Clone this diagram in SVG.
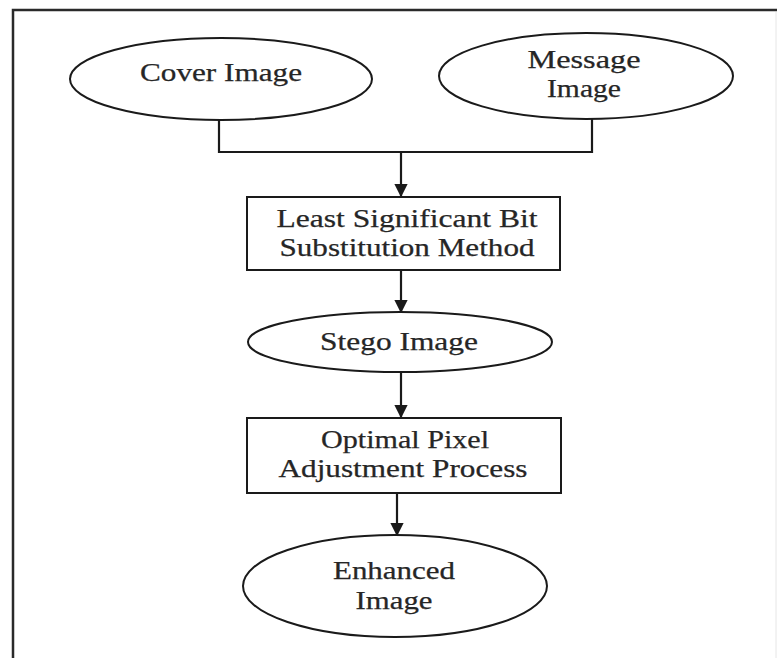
<svg xmlns="http://www.w3.org/2000/svg" width="779" height="658" viewBox="0 0 779 658">
  <defs>
    <style>
      .shape { fill: #ffffff; stroke: #1a1a1a; stroke-width: 2; }
      .wire { fill: none; stroke: #1a1a1a; stroke-width: 2.2; }
      .label { font-family: "Liberation Serif", "Times New Roman", serif; font-size: 25px; fill: #262626; stroke: #262626; stroke-width: 0.25; text-anchor: middle; }
    </style>
    <marker id="arrow" viewBox="0 0 10 10" refX="9" refY="5" markerWidth="6" markerHeight="6" markerUnits="strokeWidth" orient="auto">
      <path d="M0,0 L10,5 L0,10 z" fill="#1a1a1a"/>
    </marker>
  </defs>

  <rect width="779" height="658" fill="#ffffff"/>

  <!-- outer frame -->
  <path d="M13,658 L13,10 L777,10" fill="none" stroke="#2a2a2a" stroke-width="2.5"/>
  <line x1="776" y1="12" x2="776" y2="658" stroke="#e6e6e6" stroke-width="1"/>

  <g id="connectors">
    <path class="wire" d="M219,120 L219,152 L592,152 L592,118"/>
    <line class="wire" x1="401" y1="152" x2="401" y2="196" marker-end="url(#arrow)"/>
    <line class="wire" x1="401" y1="270" x2="401" y2="312" marker-end="url(#arrow)"/>
    <line class="wire" x1="401" y1="372" x2="401" y2="417" marker-end="url(#arrow)"/>
    <line class="wire" x1="397" y1="493" x2="397" y2="535" marker-end="url(#arrow)"/>
  </g>

  <g id="cover-image">
    <ellipse class="shape" cx="221" cy="79" rx="151" ry="41"/>
    <text class="label" x="221" y="81" textLength="162" lengthAdjust="spacingAndGlyphs">Cover Image</text>
  </g>

  <g id="message-image">
    <ellipse class="shape" cx="586" cy="76" rx="147" ry="43"/>
    <text class="label" x="584" y="68" textLength="113" lengthAdjust="spacingAndGlyphs">Message</text>
    <text class="label" x="584" y="97" textLength="74" lengthAdjust="spacingAndGlyphs">Image</text>
  </g>

  <g id="lsb-substitution">
    <rect class="shape" x="247" y="197" width="313" height="73"/>
    <text class="label" x="407" y="227" textLength="261" lengthAdjust="spacingAndGlyphs">Least Significant Bit</text>
    <text class="label" x="407" y="256" textLength="255" lengthAdjust="spacingAndGlyphs">Substitution Method</text>
  </g>

  <g id="stego-image">
    <ellipse class="shape" cx="400" cy="342" rx="152" ry="30"/>
    <text class="label" x="399" y="350" textLength="158" lengthAdjust="spacingAndGlyphs">Stego Image</text>
  </g>

  <g id="optimal-pixel-adjustment">
    <rect class="shape" x="247" y="418" width="314" height="75"/>
    <text class="label" x="405" y="448" textLength="168" lengthAdjust="spacingAndGlyphs">Optimal Pixel</text>
    <text class="label" x="403" y="477" textLength="249" lengthAdjust="spacingAndGlyphs">Adjustment Process</text>
  </g>

  <g id="enhanced-image">
    <ellipse class="shape" cx="395" cy="586" rx="152" ry="51"/>
    <text class="label" x="394" y="579" textLength="122" lengthAdjust="spacingAndGlyphs">Enhanced</text>
    <text class="label" x="394" y="609" textLength="77" lengthAdjust="spacingAndGlyphs">Image</text>
  </g>
</svg>
